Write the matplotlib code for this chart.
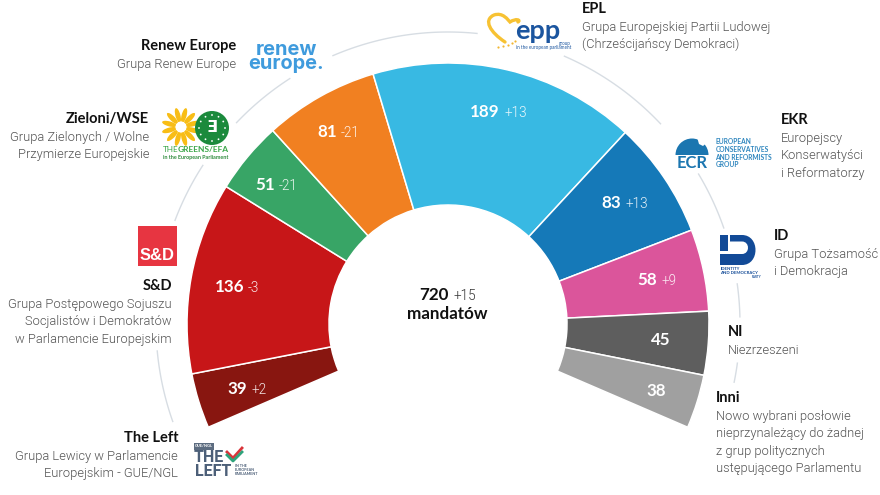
import numpy as np
import matplotlib
matplotlib.use("Agg")
import matplotlib.pyplot as plt
from matplotlib.patches import Rectangle, Circle, Ellipse, Wedge, PathPatch, Polygon
from matplotlib.path import Path

plt.rcParams['font.family'] = ['Lato', 'DejaVu Sans']

# === Data (clockwise from bottom left) ===
groups = ["The Left", "S&D", "Zieloni/WSE", "Renew Europe", "EPL", "EKR", "ID", "NI", "Inni"]
seats = [39, 136, 51, 81, 189, 83, 58, 45, 38]
changes = ["+2", "-3", "-21", "-21", "+13", "+13", "+9", "", ""]
colors = ["#881610", "#C71618", "#38A566", "#F18021", "#38B9E3", "#1579B8", "#DB559B", "#5E5E5E", "#A0A0A0"]
total_seats = "720"
total_change = "+15"
total_label = "mandatów"

# === Label positions in pixels (right end of number, text baseline) ===
label_x = [247, 244, 275, 337, 500, 621, 657, 671, 666]
label_y = [394, 292, 190, 137, 117, 208, 285, 345, 396]

# === Text blocks: x, title baseline, align, title, lines ===
blocks = [
    (236, 50, "right", "Renew Europe", ["Grupa Renew Europe"]),
    (149, 123, "right", "Zieloni/WSE", ["Grupa Zielonych / Wolne", "Przymierze Europejskie"]),
    (172, 290, "right", "S&D", ["Grupa Postępowego Sojuszu", "Socjalistów i Demokratów", "w Parlamencie Europejskim"]),
    (178, 442, "right", "The Left", ["Grupa Lewicy w Parlamencie", "Europejskim - GUE/NGL"]),
    (582, 13, "left", "EPL", ["Grupa Europejskiej Partii Ludowej", "(Chrześcijańscy Demokraci)"]),
    (781, 124, "left", "EKR", ["Europejscy", "Konserwatyści", "i Reformatorzy"]),
    (774, 240, "left", "ID", ["Grupa Tożsamość", "i Demokracja"]),
    (728, 336, "left", "NI", ["Niezrzeszeni"]),
    (716, 402, "left", "Inni", ["Nowo wybrani posłowie", "nieprzynależący do żadnej", "z grup politycznych", "ustępującego Parlamentu"]),
]

# === Grey arcs between labels (degrees, counter clockwise from east) ===
arcs = [(113.2, 84.3), (136.4, 122.8), (159.2, 147.1), (185.3, 199.5),
        (66.5, 43.3), (30.9, 19.2), (7.9, 1.4), (-7.7, -11.5)]

W, H = 880, 495
cx, cy = 448, 324
r_out, r_in, r_axes = 261, 119, 300
start_deg = 203.3
span_deg = 226.6

fig = plt.figure(figsize=(W / 100, H / 100), dpi=100)

# === Half ring on a polar axes ===
ax = fig.add_axes([(cx - r_axes) / W, (H - cy - r_axes) / H, 2 * r_axes / W, 2 * r_axes / H],
                  projection="polar")
ax.set_theta_direction(-1)
ax.set_theta_offset(np.radians(start_deg))
ax.set_ylim(0, r_axes)
ax.axis("off")

per_seat = np.radians(span_deg) / sum(seats)
widths = np.array(seats) * per_seat
lefts = np.concatenate([[0], np.cumsum(widths)[:-1]])
ax.bar(lefts, r_out - r_in, width=widths, bottom=r_in, align="edge", color=colors,
       edgecolor="white", linewidth=1.1)

for a, b in arcs:
    t = np.radians(start_deg - np.linspace(a, b, 40))
    ax.plot(t, np.full(40, 292), color="#D7DDE3", lw=1)

# === Pixel overlay for text and logos ===
ov = fig.add_axes([0, 0, 1, 1])
ov.set_xlim(0, W)
ov.set_ylim(H, 0)
ov.axis("off")
ov.patch.set_alpha(0)


def px(size):
    return size * 0.72


for x, y, ha, title, lines in blocks:
    ov.text(x, y, title, ha=ha, va="baseline", fontsize=px(14.6), fontweight="bold", color="#111111")
    for i, line in enumerate(lines):
        ov.text(x, y + 18 + 17.4 * i, line, ha=ha, va="baseline", fontsize=px(12.85),
                family="Roboto", fontweight=300, color="#555555")

# Values on the ring
for x, y, n, d in zip(label_x, label_y, seats, changes):
    ov.text(x, y, str(n), ha="right", va="baseline", fontsize=px(17), fontweight="bold", color="white")
    ov.text(x + 4, y, d, ha="left", va="baseline", fontsize=px(13.5), family="Roboto", fontweight=300,
            color="#FFFFFF", alpha=0.9)

# Centre
ov.text(449, 300, total_seats, ha="right", va="baseline", fontsize=px(17), fontweight="bold", color="#111111")
ov.text(453, 300, total_change, ha="left", va="baseline", fontsize=px(13.5), family="Roboto", fontweight=300,
        color="#333333")
ov.text(447, 319, total_label, ha="center", va="baseline", fontsize=px(17), fontweight="bold", color="#111111")

# --- Renew logo ---
ov.text(286, 57, "renew\neurope.", ha="center", va="center", ma="center", linespacing=0.78,
        fontsize=px(20), fontweight="bold", color="#3F9BDD", family="Inter")

# --- Greens logo ---
for ang in np.arange(0, 360, 30):
    a = np.radians(ang + 15)
    ov.add_patch(Ellipse((181 + 12 * np.cos(a), 127 + 12 * np.sin(a)), 15, 5, angle=ang + 15,
                         color="#F8BD16", lw=0))
ov.add_patch(Circle((181, 127), 5.5, color="white", lw=0))
ov.add_patch(Circle((212, 128), 17, color="#1B8A3C", lw=0))
for ang in np.arange(0, 360, 30):
    a = np.radians(ang)
    ov.add_patch(Circle((212 + 13 * np.cos(a), 128 + 13 * np.sin(a)), 0.9, color="white", lw=0))
ov.text(212, 128, "Ǝ", ha="center", va="center", fontsize=px(16), fontweight="bold", color="white",
        family="DejaVu Sans")
ov.text(163, 152, "THE", ha="left", va="baseline", fontsize=px(8.2), color="#3AA648")
ov.text(177.5, 152, "GREENS/EFA", ha="left", va="baseline", fontsize=px(8.4), fontweight="bold", color="#3AA648")
ov.text(163, 158.5, "in the European Parliament", ha="left", va="baseline", fontsize=px(5.4),
        fontweight="bold", color="#2E8B3D")

# --- S&D logo ---
ov.add_patch(Rectangle((138, 226), 39, 40, color="#E73541", lw=0))
ov.text(157.5, 260, "S&D", ha="center", va="baseline", fontsize=px(16.5), fontweight="bold", color="white",
        family="Liberation Sans")

# --- The Left logo ---
ov.add_patch(Rectangle((194, 443), 19.5, 6.5, color="#5C6C80", lw=0))
ov.text(203.7, 446.2, "GUE/NGL", ha="center", va="center", fontsize=px(4), fontweight="bold", color="white")
ov.text(193.5, 462.5, "THE", ha="left", va="baseline", fontsize=px(16), fontweight="bold", color="#4C5F78",
        family="Roboto")
ov.text(195.5, 476, "LEFT", ha="left", va="baseline", fontsize=px(16), fontweight="bold", color="#4C5F78",
        family="Roboto")
ov.plot([227, 233, 242], [452, 458, 448], color="#D9343A", lw=2)
ov.plot([227, 233, 242], [455, 461, 452], color="#2FA37C", lw=2)
for i, t in enumerate(["IN THE", "EUROPEAN", "PARLIAMENT"]):
    ov.text(235, 466 + 3.8 * i, t, ha="left", va="center", fontsize=px(3.8), fontweight="bold", color="#4C5F78")

# --- EPP logo ---
heart = Path([(505, 42), (490, 32), (483, 20), (494, 15), (503, 12), (508, 20), (510, 22),
              (516, 18), (521, 20), (518, 22)],
             [Path.MOVETO, Path.CURVE4, Path.CURVE4, Path.CURVE4, Path.CURVE4, Path.CURVE4, Path.CURVE4,
              Path.CURVE4, Path.CURVE4, Path.CURVE4])
ov.add_patch(PathPatch(heart, fc="none", ec="#F7C233", lw=2.4, capstyle="round"))
ov.scatter([498, 503, 508, 512, 515], [47, 46, 45, 43, 41], s=2.5, color="#F2B632", lw=0)
ov.text(537.5, 39, "epp", ha="center", va="baseline", fontsize=px(27), fontweight="bold", color="#1B559F")
ov.text(558.5, 45, "group", ha="left", va="baseline", fontsize=px(4.5), color="#1B559F")
ov.text(516, 49.5, "in the european parliament", ha="left", va="baseline", fontsize=px(4.6), color="#1B559F")

# --- ECR logo ---
ov.add_patch(Wedge((692, 155), 16.5, 180, 360, color="#1B76B0", lw=0))
ov.add_patch(Polygon([(697, 137), (699, 144), (703, 146), (710, 140)], color="white", lw=0))
ov.text(692, 168, "ECR", ha="center", va="baseline", fontsize=px(16.5), fontweight="bold", color="#1B76B0")
for i, t in enumerate(["EUROPEAN", "CONSERVATIVES", "AND REFORMISTS", "GROUP"]):
    ov.text(715.5, 141.5 + 7.8 * i, t, ha="left", va="center", fontsize=px(6.6), fontweight="bold",
            color="#2F86BE")

# --- ID logo ---
ov.add_patch(Rectangle((720, 235), 8, 15.5, color="#124A97", lw=0))
outer = Path([(730, 235), (742, 235), (760, 235), (760, 265), (742, 265), (720, 265), (720, 254),
              (742, 254), (750, 254), (750, 241.5), (742, 241.5), (730, 241.5), (730, 235)],
             [Path.MOVETO, Path.LINETO, Path.CURVE4, Path.CURVE4, Path.CURVE4, Path.LINETO, Path.LINETO,
              Path.LINETO, Path.CURVE4, Path.CURVE4, Path.CURVE4, Path.LINETO, Path.CLOSEPOLY])
ov.add_patch(PathPatch(outer, fc="#124A97", ec="none"))
ov.text(720.5, 268.5, "IDENTITY", ha="left", va="center", fontsize=px(4.2), fontweight="bold", color="#124A97")
ov.text(720.5, 272.5, "AND DEMOCRACY", ha="left", va="center", fontsize=px(4.2), fontweight="bold", color="#124A97")
ov.text(752, 276.8, "PARTY", ha="left", va="center", fontsize=px(3), fontweight="bold", color="#124A97")

fig.savefig("out.png", dpi=100)
